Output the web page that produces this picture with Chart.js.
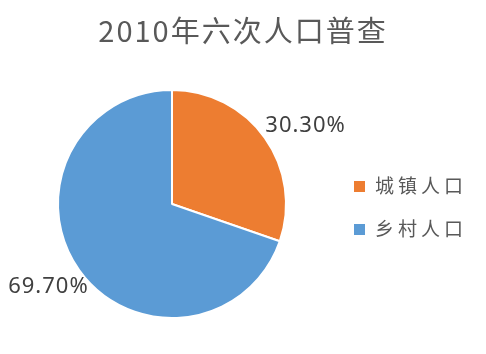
<!DOCTYPE html>
<html>
<head>
<meta charset="utf-8">
<script src="https://cdn.jsdelivr.net/npm/chart.js@4"></script>
<style>
  html, body { margin: 0; padding: 0; background: #fff; }
  #wrap { width: 486px; height: 354px; }
</style>
</head>
<body>
<div id="wrap"><canvas id="chart" width="486" height="354"></canvas></div>
<script>
// data
const titleText = "2010年六次人口普查";
const categories = ["城镇人口", "乡村人口"];
const shares = [30.30, 69.70];
const colors = ["#ED7D31", "#5B9BD5"];

const cjk = '"Noto Sans CJK SC", "Noto Sans", sans-serif';

// title, value labels and legend drawn by hand
const textPlugin = {
  id: "textPlugin",
  afterDraw(chart) {
    const ctx = chart.ctx;
    ctx.save();

    // title
    ctx.fillStyle = "#595959";
    ctx.font = "29px " + cjk;
    ctx.textBaseline = "middle";
    ctx.textAlign = "center";
    ctx.letterSpacing = "2px";
    ctx.fillText(titleText, 243, 31);

    // value labels outside the slices
    const meta = chart.getDatasetMeta(0);
    ctx.font = '22px "Noto Sans", sans-serif';
    ctx.letterSpacing = "1px";
    ctx.fillStyle = "#404040";
    meta.data.forEach((arc, i) => {
      const p = arc.getProps(["x", "y", "startAngle", "endAngle", "outerRadius"], true);
      const mid = (p.startAngle + p.endAngle) / 2 + 0.06;
      const r = p.outerRadius * 1.33;
      const x = p.x + Math.cos(mid) * r + 5;
      const y = p.y + Math.sin(mid) * r + 2;
      ctx.fillText(shares[i].toFixed(2) + "%", x, y);
    });

    // legend
    ctx.textAlign = "left";
    ctx.font = "19px " + cjk;
    ctx.letterSpacing = "4px";
    categories.forEach((c, i) => {
      const cy = 186 + i * 43;
      ctx.fillStyle = colors[i];
      ctx.fillRect(354, cy - 5, 11, 11);
      ctx.fillStyle = "#595959";
      ctx.fillText(c, 375, cy);
    });
    ctx.restore();
  }
};

new Chart(document.getElementById("chart"), {
  type: "pie",
  data: {
    labels: categories,
    datasets: [{
      data: shares,
      backgroundColor: colors,
      borderColor: "#ffffff",
      borderWidth: 2
    }]
  },
  options: {
    responsive: false,
    animation: false,
    layout: { padding: { left: 57, right: 199, top: 88, bottom: 34 } },
    plugins: {
      legend: { display: false },
      title: { display: false },
      tooltip: { enabled: false }
    }
  },
  plugins: [textPlugin]
});
</script>
</body>
</html>
